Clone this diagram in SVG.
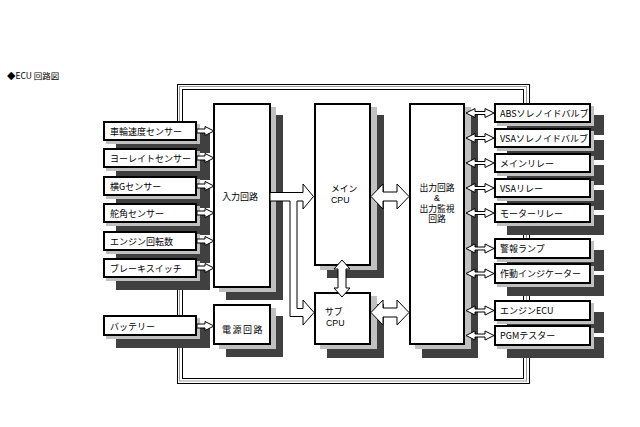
<svg xmlns="http://www.w3.org/2000/svg" width="640" height="427" viewBox="0 0 640 427">
<style>
.dk{fill:#404040}
.lt{fill:#c0c0c0}
.bx{fill:#fff;stroke:#000;stroke-width:2}
.t{font-family:"Noto Sans CJK JP","Liberation Sans",sans-serif;font-size:9px;fill:#000}
.m{font-family:"Liberation Sans","Noto Sans CJK JP",sans-serif;font-size:8.8px;fill:#000}
.ar{fill:#fff;stroke:#000;stroke-width:1;stroke-linejoin:miter}
.fr{fill:none;stroke-width:1}
</style>
<defs>
<path id="sa" class="ar" d="M0,-2 H8 V-4.5 L17,0 L8,4.5 V2 H0 Z"/>
<path id="da" class="ar" d="M0,0 L9,-4.5 V-1.5 H19 V-4.5 L28,0 L19,4.5 V1.5 H9 V4.5 Z"/>
</defs>
<rect width="640" height="427" fill="#fff"/>
<text class="t" x="7" y="79" style="font-size:8.5px">◆ECU 回路図</text>
<g id="frame">
<rect class="fr" x="177.5" y="84.5" width="352" height="299" stroke="#000"/>
<rect class="fr" x="179.5" y="86.5" width="347" height="294.5" stroke="#9a9a9a"/>
<rect class="fr" x="182.5" y="89.5" width="341" height="289" stroke="#000"/>
</g>
<g id="s1"><rect class="dk" x="116" y="133" width="94" height="20"/><rect class="lt" x="106" y="124" width="94" height="20"/><rect class="bx" x="104" y="122" width="92" height="18"/><text class="t" x="110" y="135">車輪速度センサー</text></g>
<g id="s2"><rect class="dk" x="116" y="160" width="94" height="20"/><rect class="lt" x="106" y="151" width="94" height="20"/><rect class="bx" x="104" y="149" width="92" height="18"/><text class="t" x="110" y="162">ヨーレイトセンサー</text></g>
<g id="s3"><rect class="dk" x="116" y="188" width="94" height="20"/><rect class="lt" x="106" y="179" width="94" height="20"/><rect class="bx" x="104" y="177" width="92" height="18"/><text class="t" x="110" y="190">横Gセンサー</text></g>
<g id="s4"><rect class="dk" x="116" y="215" width="94" height="20"/><rect class="lt" x="106" y="206" width="94" height="20"/><rect class="bx" x="104" y="204" width="92" height="18"/><text class="t" x="110" y="217">舵角センサー</text></g>
<g id="s5"><rect class="dk" x="116" y="243" width="94" height="20"/><rect class="lt" x="106" y="234" width="94" height="20"/><rect class="bx" x="104" y="232" width="92" height="18"/><text class="t" x="110" y="245">エンジン回転数</text></g>
<g id="s6"><rect class="dk" x="116" y="270" width="94" height="20"/><rect class="lt" x="106" y="261" width="94" height="20"/><rect class="bx" x="104" y="259" width="92" height="18"/><text class="t" x="110" y="272">ブレーキスイッチ</text></g>
<g id="battery"><rect class="dk" x="116" y="327" width="94" height="21"/><rect class="lt" x="106" y="318" width="94" height="21"/><rect class="bx" x="104" y="316" width="92" height="19"/><text class="t" x="110" y="330">バッテリー</text></g>
<g id="input"><rect class="dk" x="226" y="115" width="57" height="185"/><rect class="lt" x="219" y="107" width="57" height="185"/><rect class="bx" x="214" y="104" width="56" height="183"/><text class="t" x="222" y="200">入力回路</text></g>
<g id="power"><rect class="dk" x="226" y="316" width="57" height="41"/><rect class="lt" x="219" y="308" width="57" height="41"/><rect class="bx" x="214" y="305" width="56" height="39"/><text class="t" x="222" y="333" style="letter-spacing:1.5px">電源回路</text></g>
<g id="maincpu"><rect class="dk" x="327" y="115" width="57" height="163"/><rect class="lt" x="320" y="107" width="57" height="163"/><rect class="bx" x="315" y="104" width="55" height="161"/><text class="m" x="331" y="192">メイン</text><text class="m" x="331" y="202.5">CPU</text></g>
<g id="subcpu"><rect class="dk" x="327" y="304" width="57" height="54"/><rect class="lt" x="320" y="296" width="57" height="53"/><rect class="bx" x="315" y="293" width="55" height="51"/><text class="m" x="325" y="315">サブ</text><text class="m" x="326" y="325.5">CPU</text></g>
<g id="output"><rect class="dk" x="422" y="115" width="56" height="243"/><rect class="lt" x="415" y="107" width="56" height="242"/><rect class="bx" x="410" y="104" width="54" height="240"/><text class="m" x="437" y="190.5" text-anchor="middle">出力回路</text><text class="m" x="437" y="201" text-anchor="middle">&amp;</text><text class="m" x="437" y="211.5" text-anchor="middle">出力監視</text><text class="m" x="437" y="222" text-anchor="middle">回路</text></g>
<g id="o1"><rect class="dk" x="507" y="115" width="97" height="20"/><rect class="lt" x="497" y="106" width="97" height="20"/><rect class="bx" x="495" y="104" width="95" height="18"/><text class="t" x="500" y="117">ABSソレノイドバルブ</text></g>
<g id="o2"><rect class="dk" x="507" y="140" width="97" height="20"/><rect class="lt" x="497" y="131" width="97" height="20"/><rect class="bx" x="495" y="129" width="95" height="18"/><text class="t" x="500" y="142">VSAソレノイドバルブ</text></g>
<g id="o3"><rect class="dk" x="507" y="165" width="97" height="20"/><rect class="lt" x="497" y="156" width="97" height="20"/><rect class="bx" x="495" y="154" width="95" height="18"/><text class="t" x="500" y="167">メインリレー</text></g>
<g id="o4"><rect class="dk" x="507" y="190" width="97" height="20"/><rect class="lt" x="497" y="181" width="97" height="20"/><rect class="bx" x="495" y="179" width="95" height="18"/><text class="t" x="500" y="192">VSAリレー</text></g>
<g id="o5"><rect class="dk" x="507" y="215" width="97" height="20"/><rect class="lt" x="497" y="206" width="97" height="20"/><rect class="bx" x="495" y="204" width="95" height="18"/><text class="t" x="500" y="217">モーターリレー</text></g>
<g id="o6"><rect class="dk" x="507" y="250" width="97" height="21"/><rect class="lt" x="497" y="241" width="97" height="21"/><rect class="bx" x="495" y="239" width="95" height="19"/><text class="t" x="500" y="252">警報ランプ</text></g>
<g id="o7"><rect class="dk" x="507" y="275" width="97" height="21"/><rect class="lt" x="497" y="266" width="97" height="21"/><rect class="bx" x="495" y="264" width="95" height="19"/><text class="t" x="500" y="277">作動インジケーター</text></g>
<g id="o8"><rect class="dk" x="507" y="312" width="97" height="21"/><rect class="lt" x="497" y="303" width="97" height="21"/><rect class="bx" x="495" y="301" width="95" height="19"/><text class="t" x="500" y="314">エンジンECU</text></g>
<g id="o9"><rect class="dk" x="507" y="337" width="97" height="21"/><rect class="lt" x="497" y="328" width="97" height="21"/><rect class="bx" x="495" y="326" width="95" height="19"/><text class="t" x="500" y="339">PGMテスター</text></g>
<g id="connectors">
<use href="#sa" x="197" y="131"/>
<use href="#sa" x="197" y="158"/>
<use href="#sa" x="197" y="186"/>
<use href="#sa" x="197" y="213"/>
<use href="#sa" x="197" y="241"/>
<use href="#sa" x="197" y="268"/>
<use href="#sa" x="197" y="326"/>
<path class="ar" d="M270,192.5 H303 V184 L313.5,196.5 L303,209 V201 H297 V308.5 H303 V300 L314,312.5 L303,325 V316.5 H290 V201 H270 Z"/>
<path class="ar" d="M371,196.5 L383,184 V192 H397 V184 L409,196.5 L397,209 V201 H383 V209 Z"/>
<path class="ar" d="M371,312.5 L383,300 V308 H397 V300 L409,312.5 L397,325 V317 H383 V325 Z"/>
<path class="ar" d="M342,260 L350,269 H346 V288 H350 L342,297 L334,288 H338 V269 H334 Z"/>
<use href="#da" x="466" y="113"/>
<use href="#da" x="466" y="138"/>
<use href="#da" x="466" y="163"/>
<use href="#da" x="466" y="188"/>
<use href="#da" x="466" y="213"/>
<use href="#da" x="466" y="248.5"/>
<use href="#da" x="466" y="273.5"/>
<use href="#da" x="466" y="310.5"/>
<use href="#da" x="466" y="335.5"/>
</g>
</svg>
